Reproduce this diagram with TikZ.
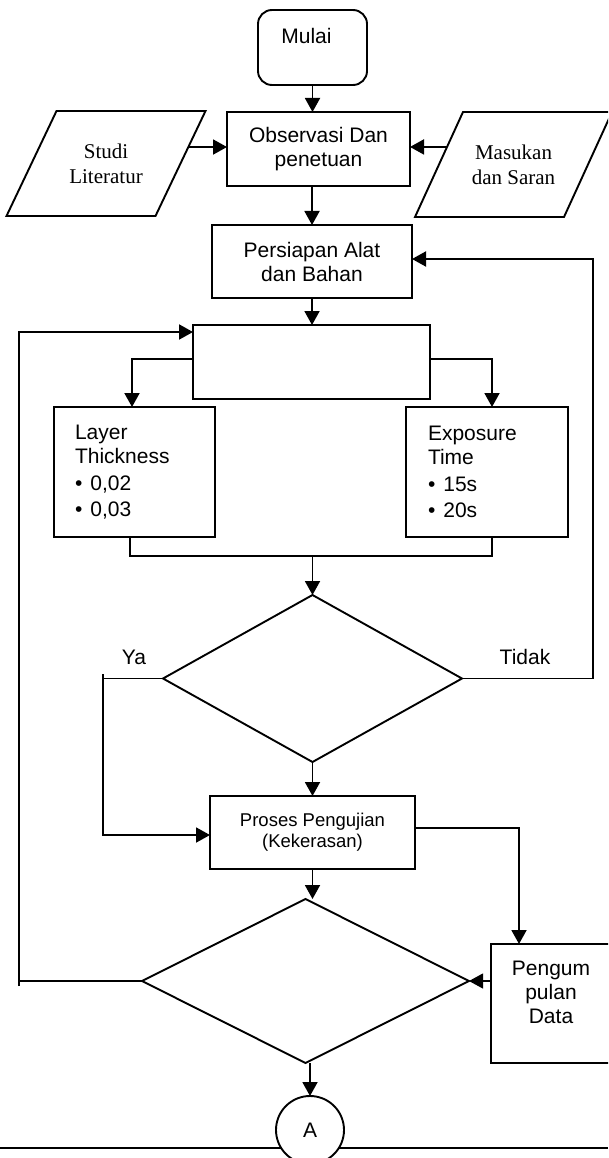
\documentclass[tikz,border=0pt]{standalone}
\usepackage{fontspec}
\setmainfont{Liberation Sans}
\newfontfamily\timesf{Liberation Serif}
\usetikzlibrary{arrows.meta,shapes.geometric,calc}
\begin{document}
\begin{tikzpicture}[x=1pt,y=-1pt,
  every node/.style={inner sep=0pt, outer sep=0pt},
  box/.style={draw, line width=1.9pt, rectangle, align=center, font=\fontsize{21}{24}\selectfont},
  paratext/.style={rectangle, minimum width=149pt, minimum height=105pt, align=center, font=\timesf\fontsize{21}{25}\selectfont},
  dec/.style={draw, line width=1.9pt, diamond},
  line/.style={line width=1.9pt},
  thin/.style={line width=1.2pt},
  arr/.style={line width=1.9pt, -{Triangle[length=14pt,width=15pt]}},
  lbl/.style={font=\fontsize{21}{24}\selectfont},
]
\useasboundingbox (0,0) rectangle (608,1158);
\clip (0,0) rectangle (608,1158);

% nodes
\node[box, rounded corners=14pt, minimum width=109pt, minimum height=75pt,
      label={[lbl, yshift=11.5pt, xshift=-6pt]center:Mulai}] (mulai) at (312.5,47.5) {};
\node[box, minimum width=183pt, minimum height=74pt] (obs) at (318.5,149) {Observasi Dan\\penetuan};
\node[paratext] (studi) at (106,163.5) {Studi\\Literatur};
\node[paratext] (mas) at (513.5,164.5) {Masukan\\dan Saran};
% parallelogram outlines (input shapes)
\coordinate (s1) at ($(studi.south west)+(-25,0)$);
\coordinate (s2) at ($(studi.south east)+(-25,0)$);
\coordinate (s3) at ($(studi.north east)+(25,0)$);
\coordinate (s4) at ($(studi.north west)+(25,0)$);
\draw[line] (s1) -- (s2) -- (s3) -- (s4) -- cycle;
\coordinate (m1) at ($(mas.south west)+(-24,0)$);
\coordinate (m2) at ($(mas.south east)+(-24,0)$);
\coordinate (m3) at ($(mas.north east)+(24,0)$);
\coordinate (m4) at ($(mas.north west)+(24,0)$);
\draw[line] (m1) -- (m2) -- (m3) -- (m4) -- cycle;
\node[box, minimum width=200pt, minimum height=73pt] (pers) at (312,261.5) {Persiapan Alat\\dan Bahan};
\node[box, minimum width=237pt, minimum height=74pt] (pilih) at (311.5,362) {};
\node[box, minimum width=161pt, minimum height=130pt, text width=119pt, align=left] (layer) at (134.5,472)
  {Layer\\Thickness\\[3pt]\textbullet\hspace{8pt}0,02\\[2pt]\textbullet\hspace{8pt}0,03};
\node[box, minimum width=162pt, minimum height=130pt, text width=118pt, align=left] (expo) at (487,472)
  {Exposure\\Time\\[3pt]\textbullet\hspace{8pt}15s\\[2pt]\textbullet\hspace{8pt}20s};
\node[dec, minimum width=299pt, minimum height=167pt] (d1) at (312.5,678.5) {};
\node[lbl] (ya) at (134,657) {Ya};
\node[lbl] (tidak) at (525,657) {Tidak};
\node[box, minimum width=205pt, minimum height=73pt, font=\fontsize{18.5}{21}\selectfont] (proses) at (312.5,832.5) {Proses Pengujian\\(Kekerasan)};
\node[dec, minimum width=327pt, minimum height=164pt] (d2) at (305.5,981) {};
\node[box, minimum width=120pt, minimum height=119pt,
      label={[lbl, align=center, yshift=11.5pt]center:Pengum\\pulan\\Data}] (peng) at (551,1003.5) {};

% bottom separator line, behind connector circle
\coordinate (bl) at (0,1148);
\coordinate (br) at (608,1148);
\draw[line] (bl) -- (br);
\node[draw, circle, line width=1.9pt, fill=white, minimum size=68pt, lbl] (A) at (310,1130) {A};

% connectors
\draw[arr] (mulai.south) -- (mulai.south |- obs.north);
\coordinate (sa) at ($(s3)!0.343!(s2)$);
\draw[arr] (sa) -- (sa -| obs.west);
\coordinate (ma) at ($(m4)!0.333!(m1)$);
\draw[arr] (ma) -- (ma -| obs.east);
\draw[arr] (pers.north |- obs.south) -- (pers.north);
\draw[arr] (pers.south) -- (pers.south |- pilih.north);
\draw[arr] ([yshift=3pt]pilih.west) -| ([xshift=-2.5pt]layer.north);
\draw[arr] ([yshift=3pt]pilih.east) -| ([xshift=5pt]expo.north);
\coordinate (mj) at (312.5,556);
\draw[line] ([xshift=-4.5pt]layer.south) |- (mj) -| ([xshift=5pt]expo.south);
\draw[arr] (mj) -- (d1.north);
% Tidak branch back to Persiapan
\coordinate (rt) at (593,678.5);
\draw[arr] (d1.east) -- (rt) |- ([yshift=2.5pt]pers.east);
% Ya branch to Proses
\coordinate (ya1) at (103,674);
\draw[line] (d1.west) -- (d1.west -| ya1);
\draw[arr] (ya1) |- ([yshift=-2.5pt]proses.west);
\draw[arr] (d1.south) -- (proses.north);
\draw[arr] ([yshift=4.5pt]proses.east) -| ([xshift=-32pt]peng.north);
\draw[arr] (proses.south) -- (proses.south |- d2.north);
\draw[thin, -{Triangle[length=14pt,width=15pt]}] (peng.west |- d2.east) -- (d2.east);
% loop back from second decision
\coordinate (lt) at (19,332);
\coordinate (lb) at (19,986);
\draw[line] (d2.west) -- (d2.west -| lb);
\draw[arr] (lb) -- (lt) -- (lt -| pilih.west);
\draw[arr] (A.north |- d2.south) -- (A.north);
\end{tikzpicture}
\end{document}
